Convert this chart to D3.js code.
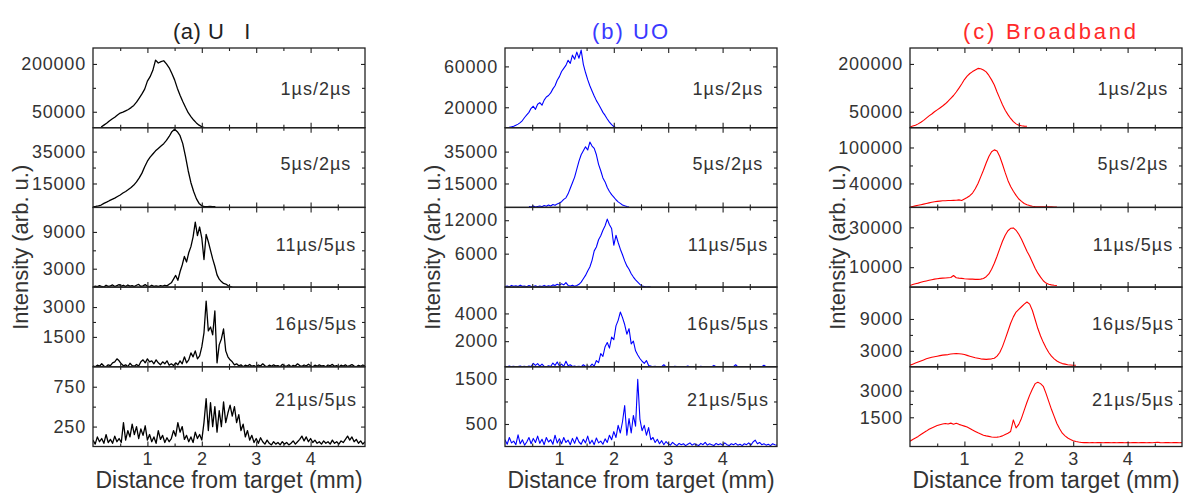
<!DOCTYPE html>
<html>
<head>
<meta charset="utf-8">
<script src="https://cdn.jsdelivr.net/npm/d3@7/dist/d3.min.js"></script>
<style>
  body { margin: 0; background: #fff; }
  svg { font-family: "Liberation Sans", Arial, sans-serif; }
</style>
</head>
<body>
<div id="root"></div>
<script>
// panel titles and delay labels
const panelTitles = ["(a) U\u00a0\u00a0\u00a0I", "(b) UO", "(c) Broadband"];
const delayLabels = ["1µs/2µs", "5µs/2µs", "11µs/5µs", "16µs/5µs", "21µs/5µs"];
const xTickValues = [1, 2, 3, 4];
const xMinorValues = [0.5, 1.5, 2.5, 3.5, 4.5];

// (a) U I  -- y limits, labelled ticks, minor ticks per row
const uiDomain = [[0, 250000], [0, 50000], [0, 13000], [0, 4000], [0, 1000]];
const uiTicks = [[50000, 200000], [15000, 35000], [3000, 9000], [1500, 3000], [250, 750]];
const uiMinor = [[125000], [25000], [6000], [2250], [500]];
const uiStart = [0.15, 0, 0, 0, 0];
const uiStep = [0.05, 0.05, 0.04, 0.04, 0.04];

const ui1 = [2000, 8000, 14000, 21000, 27000, 33000, 40000, 46000, 49000, 53000, 57000, 63000, 70000, 80000, 93000, 106000, 121000, 146000, 160000, 180000, 212000, 203000, 207000, 210000, 200000, 188000, 170000, 150000, 124000, 102000, 82000, 64000, 47000, 35000, 24000, 15000, 8000, 3000, 0];
const ui2 = [300, 600, 1000, 1500, 2500, 3300, 4200, 5000, 5800, 6800, 7800, 9000, 10000, 11200, 12500, 14000, 16000, 18500, 21500, 25500, 29000, 31500, 33500, 35500, 37000, 38500, 40000, 42000, 44500, 47500, 49000, 47500, 45000, 40000, 32000, 23000, 15500, 10000, 5500, 2500, 1000, 500, 500, 600, 400, 500];
const ui3 = [0, 150, 80, 250, 100, 0, 300, 120, 200, 350, 100, 250, 400, 150, 300, 100, 350, 150, 250, 80, 300, 450, 100, 200, 400, 150, 80, 300, 120, 200, 100, 250, 150, 300, 200, 450, 700, 1300, 1900, 1100, 2500, 3600, 5000, 4100, 5600, 6600, 8200, 10600, 8400, 9800, 8000, 4500, 8600, 7400, 6000, 4600, 3400, 2000, 1300, 900, 600, 500, 250, 100, 0];
const ui4 = [50, 0, 80, 30, 150, 40, 0, 100, 60, 200,
  250, 400, 300, 150, 50, 100, 0, 180, 60, 30,
  120, 40, 250, 350, 200, 400, 250, 300, 150, 350,
  200, 100, 250, 150, 300, 80, 150, 60, 200, 100,
  300, 150, 500, 200, 350, 700, 500, 800, 400, 550,
  1000, 1700, 3300, 1800, 2000, 1600, 2800, 200, 1100, 1400,
  1900, 800, 500, 350, 250, 100, 150, 50, 100, 0,
  80, 40, 120, 30, 60, 0, 90, 40, 150, 50,
  0, 80, 30, 100, 40, 60, 0, 120, 50, 30,
  100, 0, 70, 40, 150, 60, 20, 90, 40, 130,
  50, 0, 80, 30, 100, 40, 60, 0, 90, 50,
  120, 30, 60, 0, 80, 40, 100, 20, 60, 110,
  40, 0, 70, 30, 90, 40];
const ui5 = [80, 30, 120, 60, 100, 40, 150, 50, 90, 40,
  130, 60, 100, 50, 300, 80, 200, 120, 280, 150,
  250, 100, 220, 140, 260, 80, 150, 60, 120, 40,
  200, 90, 140, 50, 110, 60, 100, 200, 130, 300,
  180, 250, 90, 140, 60, 120, 50, 180, 100, 150,
  80, 300, 600, 200, 550, 250, 500, 180, 450, 250,
  560, 300, 420, 520, 380, 500, 300, 400, 200, 280,
  120, 200, 80, 140, 50, 100, 40, 110, 60, 30,
  80, 40, 20, 60, 30, 50, 20, 60, 30, 50,
  20, 40, 70, 30, 60, 90, 130, 70, 120, 60,
  100, 50, 80, 40, 60, 30, 70, 40, 60, 30,
  80, 40, 60, 30, 70, 50, 90, 130, 80, 120,
  60, 90, 40, 70, 30, 60];

// (b) UO
const uoDomain = [[0, 78000], [0, 50000], [0, 14300], [150, 5900], [0, 1770]];
const uoTicks = [[20000, 60000], [15000, 35000], [6000, 12000], [2000, 4000], [500, 1500]];
const uoMinor = [[40000], [25000], [9000], [3000], [1000]];
const uoStart = [0, 0.44, 0, 0, 0];
const uoStep = [0.04, 0.04, 0.04, 0.04, 0.04];

const uo1 = [0, 200, 400, 800, 1500, 2500, 3500, 5000, 7000, 10000,
  12500, 15000, 19000, 21000, 18000, 23000, 24500, 22000, 27000, 30000,
  31500, 34000, 38000, 41000, 46500, 50000, 55000, 58000, 61000, 66000,
  63000, 71000, 67000, 74000, 68000, 76000, 62000, 54000, 47000, 41000,
  36000, 31000, 26500, 23000, 19000, 15000, 12000, 8500, 5500, 3000,
  1200, 0];
const uo2 = [500, 300, 800, 200, 600, 900, 400, 1200, 700, 1500,
  900, 1800, 1300, 2200, 2800, 3600, 5000, 6000, 8500, 12000,
  15500, 19000, 24000, 29000, 33000, 35500, 38000, 36000, 41000, 38500,
  37000, 33000, 27000, 23000, 18500, 16000, 12500, 10000, 8000, 6500,
  4800, 3500, 2500, 1500, 1000, 600, 300];
const uo3 = [100, 200, 50, 300, 150, 250, 100, 350, 150, 200,
  80, 300, 150, 100, 250, 50, 200, 120, 300, 100,
  250, 150, 400, 300, 500, 350, 600, 400, 800, 300,
  200, 350, 150, 300, 500, 900, 1500, 2100, 2900, 3600,
  4800, 6500, 7200, 8500, 9200, 10200, 11000, 12200, 11200, 10500,
  7500, 9300, 8000, 6800, 5800, 4700, 3800, 3200, 2400, 1800,
  1300, 900, 500, 200, 100, 0, 50, 0];
const uo4 = [180, 150, 200, 160, 190, 150, 170, 210, 160, 180,
  150, 200, 170, 400, 250, 380, 200, 350, 180, 160,
  220, 170, 420, 250, 500, 200, 350, 180, 550, 220,
  300, 170, 200, 160, 190, 150, 300, 170, 200, 160,
  350, 200, 600, 450, 1100, 900, 1600, 1900, 1500, 2300,
  2100, 3100, 3500, 4100, 3700, 3200, 2500, 2900, 1800, 2000,
  1300, 1000, 750, 550, 400, 600, 250, 200, 160, 180,
  150, 170, 160, 300, 150, 170, 160, 150, 180, 160,
  150, 170, 160, 150, 200, 160, 150, 170, 160, 150,
  180, 150, 160, 170, 150, 160, 250, 160, 150, 170,
  160, 150, 170, 160, 150, 160, 300, 150, 170, 160,
  150, 170, 160, 150, 160, 170, 150, 160, 150, 260,
  160, 150, 170, 160, 150, 170];
const uo5 = [150, 50, 200, 80, 120, 40, 260, 60, 150, 30,
  100, 200, 60, 180, 90, 230, 70, 160, 40, 200,
  100, 150, 50, 250, 80, 170, 60, 200, 90, 140,
  40, 180, 70, 210, 100, 50, 160, 80, 230, 60,
  140, 40, 190, 80, 120, 50, 170, 90, 250, 150,
  330, 200, 470, 300, 550, 910, 250, 620, 300, 690,
  450, 1490, 610, 350, 470, 250, 420, 150, 200, 90,
  160, 60, 130, 40, 110, 60, 30, 90, 50, 20,
  70, 40, 60, 20, 50, 80, 30, 60, 40, 20,
  70, 40, 90, 30, 60, 40, 20, 70, 40, 60,
  30, 80, 40, 20, 60, 40, 70, 30, 50, 20,
  60, 40, 80, 30, 100, 140, 60, 90, 40, 60,
  30, 50, 20, 60, 40, 30];

// (c) Broadband
const bbDomain = [[0, 250000], [0, 133000], [0, 40000], [0, 15000], [-150, 4350]];
const bbTicks = [[50000, 200000], [40000, 100000], [10000, 30000], [3000, 9000], [1500, 3000]];
const bbMinor = [[125000], [70000], [20000], [6000], [2250]];
const bbStart = [0, 0, 0, 0, 0];
const bbStep = [0.05, 0.05, 0.05, 0.05, 0.05];

const bb1 = [2000, 5000, 8000, 12000, 17000, 23000, 30000, 37000, 43000, 50000,
  56000, 62000, 68000, 75000, 83000, 92000, 101000, 112000, 124000, 137000,
  151000, 162000, 170000, 176000, 181000, 186000, 185000, 181000, 175000, 164000,
  150000, 134000, 112000, 92000, 72000, 55000, 41000, 29000, 19000, 12000,
  8000, 6000, 5000, 4500];
const bb2 = [500, 1500, 2500, 3500, 4500, 5500, 6500, 7500, 8500, 9500,
  10000, 10500, 11000, 11200, 11500, 11500, 11800, 12000, 12500, 11500,
  14000, 16500, 19500, 24000, 31000, 40000, 51000, 62000, 74000, 85000,
  93000, 96000, 94000, 85000, 72000, 58000, 45000, 35000, 27000, 20000,
  14000, 10000, 6500, 4500, 3000, 2000, 1500, 1200, 1000, 900,
  800, 900, 800, 700, 600];
const bb3 = [800, 1300, 1700, 2000, 2400, 2800, 3100, 3400, 3700, 4000,
  4200, 4400, 4500, 4600, 4700, 4800, 5800, 4700, 4500, 4400,
  4200, 4100, 4000, 4000, 3900, 3900, 4000, 4300, 5200, 6600,
  9000, 12000, 15500, 19300, 23000, 26000, 28300, 29500, 29700, 28500,
  26500, 24000, 21000, 18000, 15500, 12500, 9500, 7000, 5000, 3200,
  2000, 1400, 1100, 900, 800];
const bb4 = [300, 500, 700, 900, 1100, 1300, 1500, 1650, 1800, 1900,
  2000, 2100, 2200, 2250, 2300, 2400, 2450, 2500, 2450, 2400,
  2300, 2150, 2000, 1850, 1700, 1600, 1500, 1450, 1400, 1450,
  1500, 1600, 2000, 2700, 3800, 5200, 6700, 8200, 9400, 10300,
  10800, 11300, 11800, 12200, 11800, 10600, 8900, 7200, 5800, 4600,
  3600, 2700, 2000, 1500, 1100, 800, 600, 500, 400, 350,
  300, 300];
const bb5 = [150, 250, 330, 420, 530, 630, 720, 820, 900, 970,
  1030, 1080, 1120, 1150, 1120, 1170, 1110, 1160, 1100, 1050,
  1000, 950, 870, 780, 700, 620, 560, 490, 450, 420,
  390, 370, 380, 400, 450, 530, 600, 700, 1350, 900,
  1100, 1450, 1900, 2350, 2750, 3100, 3400, 3480, 3400, 3250,
  2850, 2400, 1950, 1550, 1150, 850, 600, 450, 330, 250,
  180, 130, 100, 80, 70, 80, 60, 70, 60, 80,
  70, 60, 70, 80, 60, 70, 60, 80, 70, 60,
  70, 60, 80, 70, 60, 70, 80, 60, 70, 60,
  80, 90, 70, 60, 80, 70, 60, 70, 80, 60,
  70];

const W = 1184, H = 494;
const panelLeft = [93, 505, 910];
const panelWidth = 272;
const plotTop = 48, rowH = 79.7;
const titleX = [173, 592, 963];
const titleSpacing = [0.5, 2, 2.8];
const labelDy = [41, 36, 38, 37, 33];

const panels = [
  { title: panelTitles[0], color: "#000", titleColor: "#222", width: 1.3,
    traces: [ui1, ui2, ui3, ui4, ui5], start: uiStart, step: uiStep, domain: uiDomain, ticks: uiTicks, minor: uiMinor },
  { title: panelTitles[1], color: "#0000ff", titleColor: "#3a3aff", width: 1.1,
    traces: [uo1, uo2, uo3, uo4, uo5], start: uoStart, step: uoStep, domain: uoDomain, ticks: uoTicks, minor: uoMinor },
  { title: panelTitles[2], color: "#ff0000", titleColor: "#ff2a2a", width: 1.1,
    traces: [bb1, bb2, bb3, bb4, bb5], start: bbStart, step: bbStep, domain: bbDomain, ticks: bbTicks, minor: bbMinor }
];

const svg = d3.select("#root").append("svg").attr("width", W).attr("height", H);

function tidy(axisG) {
  axisG.select(".domain").remove();
  axisG.attr("font-size", null).attr("font-family", null);
  axisG.selectAll("line").attr("stroke", "#222").attr("stroke-width", 1.1);
  axisG.selectAll("text").attr("fill", "#333")
    .style("font-size", "18px").style("letter-spacing", "0.8px");
}

panels.forEach((p, pi) => {
  const left = panelLeft[pi], right = left + panelWidth;
  const x = d3.scaleLinear().domain([0, 5]).range([left, right]);
  const g = svg.append("g");

  g.append("text")
    .attr("x", titleX[pi]).attr("y", 39)
    .attr("fill", p.titleColor)
    .style("font-size", "22px").style("letter-spacing", titleSpacing[pi] + "px")
    .text(p.title);

  p.traces.forEach((values, ri) => {
    const y0 = plotTop + ri * rowH, y1 = y0 + rowH;
    const y = d3.scaleLinear().domain(p.domain[ri]).range([y1, y0]);
    const pts = values.map((v, i) => [p.start[ri] + i * p.step[ri], v]);

    const clipId = `clip${pi}${ri}`;
    g.append("clipPath").attr("id", clipId)
      .append("rect").attr("x", left).attr("y", y0).attr("width", panelWidth).attr("height", rowH);

    g.append("path").datum(pts)
      .attr("clip-path", `url(#${clipId})`)
      .attr("fill", "none")
      .attr("stroke", p.color)
      .attr("stroke-width", p.width)
      .attr("stroke-linejoin", "round")
      .attr("d", d3.line().x(d => x(d[0])).y(d => y(d[1])));

    // y ticks, pointing inward on both sides
    g.append("g").attr("transform", `translate(${left},0)`)
      .call(d3.axisLeft(y).tickValues(p.ticks[ri]).tickSize(-4).tickPadding(7).tickFormat(d3.format("d")))
      .call(tidy);
    g.append("g").attr("transform", `translate(${left},0)`)
      .call(d3.axisLeft(y).tickValues(p.minor[ri]).tickSize(-3).tickFormat(""))
      .call(tidy);
    g.append("g").attr("transform", `translate(${right},0)`)
      .call(d3.axisRight(y).tickValues(p.ticks[ri]).tickSize(-4).tickFormat(""))
      .call(tidy);
    g.append("g").attr("transform", `translate(${right},0)`)
      .call(d3.axisRight(y).tickValues(p.minor[ri]).tickSize(-3).tickFormat(""))
      .call(tidy);

    // x ticks on the top and bottom edge of every row
    g.append("g").attr("transform", `translate(0,${y0})`)
      .call(d3.axisTop(x).tickValues(xTickValues).tickSize(-5).tickFormat(""))
      .call(tidy);
    g.append("g").attr("transform", `translate(0,${y0})`)
      .call(d3.axisTop(x).tickValues(xMinorValues).tickSize(-3).tickFormat(""))
      .call(tidy);
    g.append("g").attr("transform", `translate(0,${y1})`)
      .call(d3.axisBottom(x).tickValues(xTickValues).tickSize(-5).tickPadding(6)
        .tickFormat(ri === 4 ? d3.format("d") : ""))
      .call(tidy);
    g.append("g").attr("transform", `translate(0,${y1})`)
      .call(d3.axisBottom(x).tickValues(xMinorValues).tickSize(-3).tickFormat(""))
      .call(tidy);

    g.append("rect")
      .attr("x", left).attr("y", y0).attr("width", panelWidth).attr("height", rowH)
      .attr("fill", "none").attr("stroke", "#222").attr("stroke-width", 1.3);

    g.append("text")
      .attr("x", left + 223).attr("y", y0 + labelDy[ri] + 6)
      .attr("text-anchor", "middle")
      .attr("fill", "#333")
      .style("font-size", "18px").style("letter-spacing", "1px")
      .text(delayLabels[ri]);
  });

  g.append("text")
    .attr("transform", `translate(${left - 65},${plotTop + 2.5 * rowH}) rotate(-90)`)
    .attr("text-anchor", "middle")
    .attr("fill", "#333")
    .style("font-size", "22px")
    .text("Intensity (arb. u.)");

  g.append("text")
    .attr("x", (left + right) / 2).attr("y", 488)
    .attr("text-anchor", "middle")
    .attr("fill", "#333")
    .style("font-size", "23px")
    .text("Distance from target (mm)");
});
</script>
</body>
</html>
